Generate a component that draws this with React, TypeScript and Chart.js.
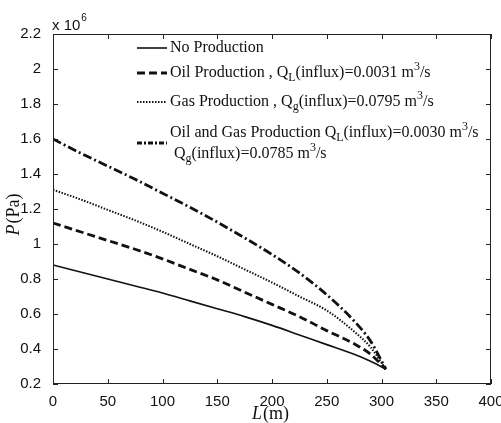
import React, { useEffect, useRef } from "react";
import { Chart, registerables } from "chart.js";

Chart.register(...registerables);

// Distance along the well (m)
const lengthM = [0, 25, 50, 75, 100, 125, 150, 175, 200, 225, 250, 275, 290, 304];

// Pressure profiles, in units of 10^6 Pa
const noProduction = [0.88, 0.84, 0.8, 0.76, 0.72, 0.675, 0.63, 0.585, 0.535, 0.48, 0.425, 0.37, 0.33, 0.285];
const oilProduction = [1.12, 1.07, 1.02, 0.97, 0.915, 0.855, 0.795, 0.725, 0.655, 0.585, 0.505, 0.43, 0.37, 0.285];
const gasProduction = [1.31, 1.255, 1.195, 1.135, 1.07, 1.0, 0.93, 0.855, 0.78, 0.7, 0.62, 0.5, 0.41, 0.285];
const oilGasProduction = [1.6, 1.52, 1.445, 1.37, 1.29, 1.21, 1.125, 1.035, 0.94, 0.835, 0.71, 0.56, 0.445, 0.285];

const xTicks = [0, 50, 100, 150, 200, 250, 300, 350, 400];
const yTicks = [0.2, 0.4, 0.6, 0.8, 1, 1.2, 1.4, 1.6, 1.8, 2, 2.2];

const SERIF = '"Liberation Serif", "Times New Roman", serif';
const SANS = '"Liberation Sans", Arial, sans-serif';

type Part = [string, "n" | "sub" | "sup"];

const solidDash: number[] = [];
const oilDash = [8, 4];
const gasDash = [1.5, 1.5];
const oilGasDash = [9, 3, 2, 3];

const legendRows: { dash: number[]; width: number; lines: Part[][] }[] = [
  { dash: solidDash, width: 1.6, lines: [[["No Production", "n"]]] },
  {
    dash: oilDash,
    width: 2.8,
    lines: [[["Oil Production , Q", "n"], ["L", "sub"], ["(influx)=0.0031 m", "n"], ["3", "sup"], ["/s", "n"]]],
  },
  {
    dash: gasDash,
    width: 2,
    lines: [[["Gas Production , Q", "n"], ["g", "sub"], ["(influx)=0.0795 m", "n"], ["3", "sup"], ["/s", "n"]]],
  },
  {
    dash: [5, 2, 2, 2],
    width: 2.8,
    lines: [
      [["Oil and Gas Production Q", "n"], ["L", "sub"], ["(influx)=0.0030 m", "n"], ["3", "sup"], ["/s", "n"]],
      [[" Q", "n"], ["g", "sub"], ["(influx)=0.0785 m", "n"], ["3", "sup"], ["/s", "n"]],
    ],
  },
];

function drawRich(ctx: CanvasRenderingContext2D, x: number, y: number, parts: Part[], size: number) {
  let cx = x;
  ctx.textBaseline = "middle";
  ctx.textAlign = "left";
  for (const [text, mode] of parts) {
    if (mode === "n") {
      ctx.font = `${size}px ${SERIF}`;
      ctx.fillText(text, cx, y);
    } else {
      ctx.font = `${Math.round(size * 0.72)}px ${SERIF}`;
      ctx.fillText(text, cx, mode === "sub" ? y + 5 : y - 6);
    }
    cx += ctx.measureText(text).width;
  }
}

const framePlugin = {
  id: "frame",
  afterDraw(chart: any) {
    const { ctx, chartArea: a, scales } = chart;
    const xs = scales.x;
    const ys = scales.y;
    ctx.save();
    ctx.strokeStyle = "#222";
    ctx.lineWidth = 1;
    ctx.setLineDash([]);
    ctx.strokeRect(a.left + 0.5, a.top + 0.5, a.right - a.left - 1, a.bottom - a.top - 1);
    const tl = 5;
    ctx.beginPath();
    for (const v of xTicks) {
      const px = Math.round(xs.getPixelForValue(v)) + 0.5;
      ctx.moveTo(px, a.bottom);
      ctx.lineTo(px, a.bottom - tl);
      ctx.moveTo(px, a.top);
      ctx.lineTo(px, a.top + tl);
    }
    for (const v of yTicks) {
      const py = Math.round(ys.getPixelForValue(v)) + 0.5;
      ctx.moveTo(a.left, py);
      ctx.lineTo(a.left + tl, py);
      ctx.moveTo(a.right, py);
      ctx.lineTo(a.right - tl, py);
    }
    ctx.stroke();

    // exponent label above the y axis
    ctx.fillStyle = "#111";
    ctx.textBaseline = "alphabetic";
    ctx.textAlign = "left";
    ctx.font = `15px ${SANS}`;
    ctx.fillText("x 10", a.left - 1, 30);
    const w = ctx.measureText("x 10").width;
    ctx.font = `10px ${SANS}`;
    ctx.fillText("6", a.left - 1 + w + 1, 21);

    // axis titles
    ctx.save();
    ctx.translate(14, 215);
    ctx.rotate(-Math.PI / 2);
    ctx.textBaseline = "middle";
    ctx.textAlign = "left";
    ctx.font = `italic 18px ${SERIF}`;
    const pw = ctx.measureText("P").width;
    ctx.font = `18px ${SERIF}`;
    const rest = "(Pa)";
    const rw = ctx.measureText(rest).width;
    const start = -(pw + rw) / 2;
    ctx.font = `italic 18px ${SERIF}`;
    ctx.fillText("P", start, 0);
    ctx.font = `18px ${SERIF}`;
    ctx.fillText(rest, start + pw + 1, 0);
    ctx.restore();

    ctx.textBaseline = "middle";
    ctx.font = `italic 18px ${SERIF}`;
    const lw = ctx.measureText("L").width;
    ctx.font = `18px ${SERIF}`;
    const mw = ctx.measureText("(m)").width;
    const lx = 270 - (lw + mw) / 2;
    ctx.font = `italic 18px ${SERIF}`;
    ctx.fillText("L", lx, 414);
    ctx.font = `18px ${SERIF}`;
    ctx.fillText("(m)", lx + lw + 1, 414);

    // legend
    const rowY = [48, 73, 102, 133];
    legendRows.forEach((row, i) => {
      const y = rowY[i];
      const sampleY = row.lines.length > 1 ? y + 10 : y;
      ctx.strokeStyle = "#111";
      ctx.lineWidth = row.width;
      ctx.setLineDash(row.dash);
      ctx.beginPath();
      ctx.moveTo(137, sampleY);
      ctx.lineTo(167, sampleY);
      ctx.stroke();
      ctx.setLineDash([]);
      ctx.fillStyle = "#111";
      row.lines.forEach((ln, j) => drawRich(ctx, 170, y + j * 21, ln, 16));
    });
    ctx.restore();
  },
};

export default function App() {
  const ref = useRef<HTMLCanvasElement | null>(null);
  useEffect(() => {
    if (!ref.current) return;
    const mk = (vals: number[], dash: number[], width: number) => ({
      data: lengthM.map((x, i) => ({ x, y: vals[i] })),
      borderColor: "#111",
      borderWidth: width,
      borderDash: dash,
      pointRadius: 0,
      fill: false,
      cubicInterpolationMode: "monotone" as const,
    });
    const chart = new Chart(ref.current, {
      type: "line",
      data: {
        datasets: [
          mk(noProduction, solidDash, 1.6),
          mk(oilProduction, oilDash, 2.8),
          mk(gasProduction, gasDash, 2),
          mk(oilGasProduction, oilGasDash, 2.8),
        ],
      },
      options: {
        animation: false,
        responsive: false,
        layout: { padding: { left: 0, right: 10, top: 34, bottom: 0 } },
        plugins: { legend: { display: false }, tooltip: { enabled: false } },
        scales: {
          x: {
            type: "linear",
            min: 0,
            max: 400,
            afterBuildTicks: (s: any) => {
              s.ticks = xTicks.map((v) => ({ value: v }));
            },
            afterFit: (s: any) => {
              s.height = 39;
              s.paddingLeft = 0;
              s.paddingRight = 0;
            },
            grid: { display: false },
            border: { display: false },
            ticks: {
              maxRotation: 0,
              autoSkip: false,
              padding: 1,
              color: "#111",
              font: { family: SANS, size: 15 },
            },
          },
          y: {
            type: "linear",
            min: 0.2,
            max: 2.2,
            afterBuildTicks: (s: any) => {
              s.ticks = yTicks.map((v) => ({ value: v }));
            },
            afterFit: (s: any) => {
              s.width = 53;
              s.paddingTop = 0;
              s.paddingBottom = 0;
            },
            grid: { display: false },
            border: { display: false },
            ticks: {
              autoSkip: false,
              padding: 4,
              color: "#111",
              font: { family: SANS, size: 15 },
              callback: (v: any) => String(Number(Number(v).toFixed(1))),
            },
          },
        },
      },
      plugins: [framePlugin],
    });
    return () => chart.destroy();
  }, []);
  return (
    <div style={{ position: "fixed", left: 0, top: 0, width: 501, height: 423, background: "#fff" }}>
      <canvas ref={ref} width={501} height={423} style={{ display: "block" }} />
    </div>
  );
}
